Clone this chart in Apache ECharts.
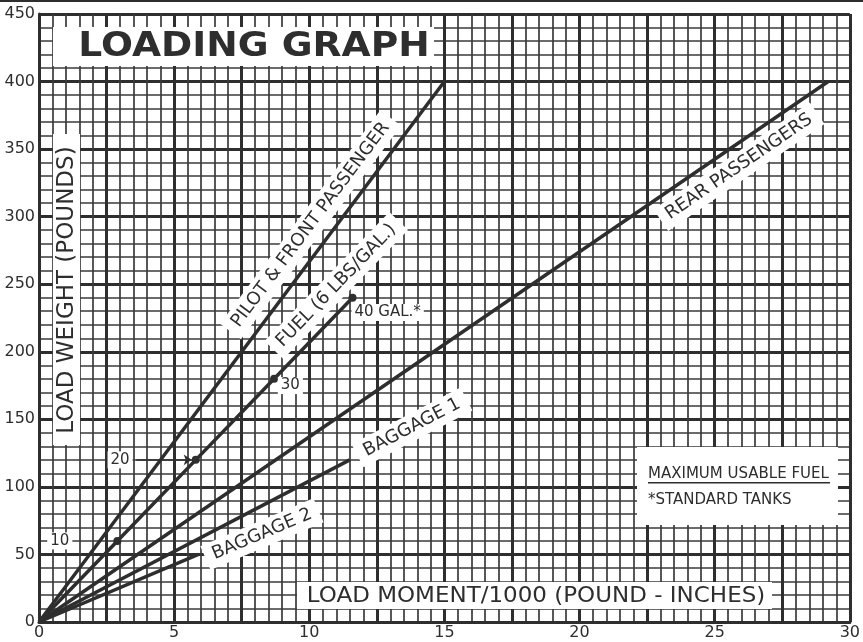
<!DOCTYPE html>
<html>
<head>
<meta charset="utf-8">
<script src="https://cdn.jsdelivr.net/npm/echarts@6/dist/echarts.min.js"></script>
<style>
  html, body { margin: 0; padding: 0; background: #fff; }
  #main { width: 863px; height: 642px; }
</style>
</head>
<body>
<div id="main"></div>
<script>
// load moment / 1000 (x) vs load weight (y) for each station line
const pilotLine = [[0, 0], [15.0, 400]];
const rearLine = [[0, 0], [29.2, 400]];
const baggage1Line = [[0, 0], [11.5, 120]];
const baggage2Line = [[0, 0], [5.9, 50]];
const fuelGallons = [0, 10, 20, 30, 40];
const fuelMoment = [0, 2.9, 5.8, 8.7, 11.6];
const fuelWeight = [0, 60, 120, 180, 240];

const xTicks = [0, 5, 10, 15, 20, 25, 30];
const yTicks = [0, 50, 100, 150, 200, 250, 300, 350, 400, 450];

// line captions: text, anchor [moment, weight], which line gives the slope
const lineCaptions = [
  { text: 'PILOT & FRONT PASSENGER', at: [10.05, 294], along: pilotLine },
  { text: 'FUEL (6 LBS/GAL.)', at: [11.0, 249], along: [[0, 0], [11.6, 240]] },
  { text: 'REAR PASSENGERS', at: [25.9, 337], along: rearLine },
  { text: 'BAGGAGE 1', at: [13.8, 144], along: baggage1Line },
  { text: 'BAGGAGE 2', at: [8.25, 65], along: baggage2Line }
];
const gallonCaptions = [
  { text: '10', at: [0.77, 60] },
  { text: '20', at: [3.0, 120] },
  { text: '30', at: [9.3, 175] },
  { text: '40 GAL.*', at: [12.9, 229] }
];

const FONT = 'DejaVu Sans';
const INK = '#2e2e2e';

const chart = echarts.init(document.getElementById('main'));

const lineStyle = { color: INK, width: 3.5 };
const fuelData = fuelMoment.map((m, i) => ({
  value: [m, fuelWeight[i]],
  symbol: fuelGallons[i] === 0 ? 'none' : 'circle',
  symbolSize: 8
}));

const axisCommon = {
  type: 'value',
  axisLine: { show: true, lineStyle: { color: INK, width: 3 } },
  axisTick: { show: false },
  splitLine: { show: true, lineStyle: { color: INK, width: 3 } },
  minorTick: { show: false, splitNumber: 5 },
  minorSplitLine: { show: true, lineStyle: { color: '#3a3a3a', width: 1.7 } }
};

chart.setOption({
  animation: false,
  backgroundColor: '#fff',
  grid: { left: 39, right: 10, top: 14, bottom: 20 },
  xAxis: Object.assign({}, axisCommon, {
    min: 0,
    max: 30,
    interval: 2.5,
    axisLabel: {
      color: INK,
      fontFamily: FONT,
      fontSize: 16,
      margin: 3,
      formatter: v => (xTicks.includes(v) ? String(v) : '')
    }
  }),
  yAxis: Object.assign({}, axisCommon, {
    min: 0,
    max: 450,
    interval: 50,
    axisLabel: {
      color: INK,
      fontFamily: FONT,
      fontSize: 16,
      margin: 4,
      formatter: v => (yTicks.includes(v) ? String(v) : '')
    }
  }),
  series: [
    { type: 'line', data: pilotLine, symbol: 'none', lineStyle, z: 5 },
    { type: 'line', data: rearLine, symbol: 'none', lineStyle, z: 5 },
    { type: 'line', data: baggage1Line, symbol: 'none', lineStyle, z: 5 },
    { type: 'line', data: baggage2Line, symbol: 'none', lineStyle, z: 5 },
    {
      type: 'line',
      data: fuelData,
      lineStyle,
      itemStyle: { color: INK, borderWidth: 0 },
      z: 6,
      markLine: {
        silent: true,
        symbol: ['none', 'arrow'],
        symbolSize: 8,
        label: { show: false },
        lineStyle: { color: INK, width: 1.7, type: 'solid' },
        data: [[{ coord: [3.6, 120] }, { coord: [5.65, 120] }]]
      }
    }
  ]
});

const px = p => chart.convertToPixel({ gridIndex: 0 }, p);

const graphics = [];

// thin rule across the very top
graphics.push({
  type: 'rect',
  shape: { x: 0, y: 0, width: 863, height: 2 },
  style: { fill: INK },
  z: 100
});

lineCaptions.forEach(c => {
  const a = px(c.along[0]);
  const b = px(c.along[1]);
  const angle = Math.atan2(a[1] - b[1], b[0] - a[0]);
  const pos = px(c.at);
  graphics.push({
    type: 'text',
    x: pos[0],
    y: pos[1],
    rotation: angle,
    z: 100,
    style: {
      text: c.text,
      fill: INK,
      font: '500 18px "' + FONT + '"',
      align: 'center',
      verticalAlign: 'middle',
      backgroundColor: '#fff',
      padding: [4, 8]
    }
  });
});

gallonCaptions.forEach(c => {
  const pos = px(c.at);
  graphics.push({
    type: 'text',
    x: pos[0],
    y: pos[1],
    z: 100,
    style: {
      text: c.text,
      fill: INK,
      font: '15px "' + FONT + '"',
      align: 'center',
      verticalAlign: 'middle',
      backgroundColor: '#fff',
      padding: [1, 3]
    }
  });
});

// titles and the note box
graphics.push(
  {
    type: 'rect',
    shape: { x: 53, y: 27, width: 381, height: 39 },
    style: { fill: '#fff' },
    z: 100
  },
  {
    type: 'text',
    x: 254,
    y: 47,
    scaleX: 1.14,
    z: 101,
    style: {
      text: 'LOADING GRAPH',
      fill: INK,
      font: 'bold 33px "' + FONT + '"',
      align: 'center',
      verticalAlign: 'middle'
    }
  },
  {
    type: 'rect',
    shape: { x: 53, y: 134, width: 27, height: 311 },
    style: { fill: '#fff' },
    z: 100
  },
  {
    type: 'text',
    x: 67,
    y: 290,
    rotation: Math.PI / 2,
    z: 101,
    style: {
      text: 'LOAD WEIGHT (POUNDS)',
      fill: INK,
      font: '500 23px "' + FONT + '"',
      align: 'center',
      verticalAlign: 'middle'
    }
  },
  {
    type: 'rect',
    shape: { x: 297, y: 582, width: 475, height: 27 },
    style: { fill: '#fff' },
    z: 100
  },
  {
    type: 'text',
    x: 536,
    y: 596,
    scaleX: 1.045,
    z: 101,
    style: {
      text: 'LOAD MOMENT/1000 (POUND - INCHES)',
      fill: INK,
      font: '500 22px "' + FONT + '"',
      align: 'center',
      verticalAlign: 'middle'
    }
  },
  {
    type: 'rect',
    shape: { x: 637, y: 447, width: 201, height: 78 },
    style: { fill: '#fff' },
    z: 100
  },
  {
    type: 'text',
    x: 648,
    y: 474,
    scaleX: 1.0,
    z: 101,
    style: {
      text: 'MAXIMUM USABLE FUEL',
      fill: INK,
      font: '15px "' + FONT + '"',
      align: 'left',
      verticalAlign: 'middle'
    }
  },
  {
    type: 'rect',
    shape: { x: 648, y: 482, width: 182, height: 1.5 },
    style: { fill: INK },
    z: 101
  },
  {
    type: 'text',
    x: 648,
    y: 500,
    z: 101,
    style: {
      text: '*STANDARD TANKS',
      fill: INK,
      font: '15px "' + FONT + '"',
      align: 'left',
      verticalAlign: 'middle'
    }
  }
);

chart.setOption({ graphic: graphics });
</script>
</body>
</html>
